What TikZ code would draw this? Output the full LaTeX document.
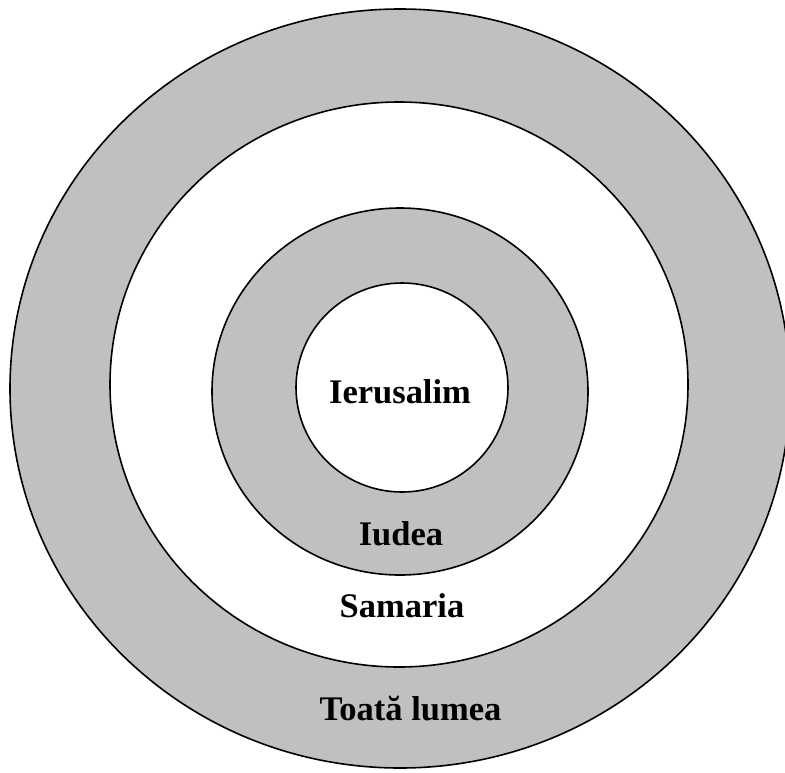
\documentclass[tikz,border=0pt]{standalone}
\usepackage{fontspec}
\setmainfont{Liberation Serif}
\definecolor{ringgray}{RGB}{192,192,192}
\begin{document}
\begin{tikzpicture}[x=1pt,y=-1pt,
  ring/.style={draw=black,line width=1.6pt},
  lbl/.style={font=\fontsize{34.5}{40}\selectfont\bfseries,inner sep=0pt,anchor=base}]
\useasboundingbox (0,0) rectangle (785,772);
\begin{scope}
\clip (0,0) rectangle (785,772);
\draw[ring,fill=ringgray] (400,388.5) ellipse [x radius=390,y radius=379.5];
\end{scope}
\draw[ring,fill=white] (399,384.5) ellipse [x radius=289,y radius=282.5];
\draw[ring,fill=ringgray] (400,391.5) ellipse [x radius=188,y radius=183.5];
\draw[ring,fill=white] (402,387.5) ellipse [x radius=106,y radius=104.5];
\node[lbl] (ierusalim) at (400,403) {Ierusalim};
\node[lbl] (iudea) at (401,545) {Iudea};
\node[lbl] (samaria) at (402,617) {Samaria};
\node[lbl] (lumea) at (410.5,720) {Toată lumea};
\end{tikzpicture}
\end{document}
